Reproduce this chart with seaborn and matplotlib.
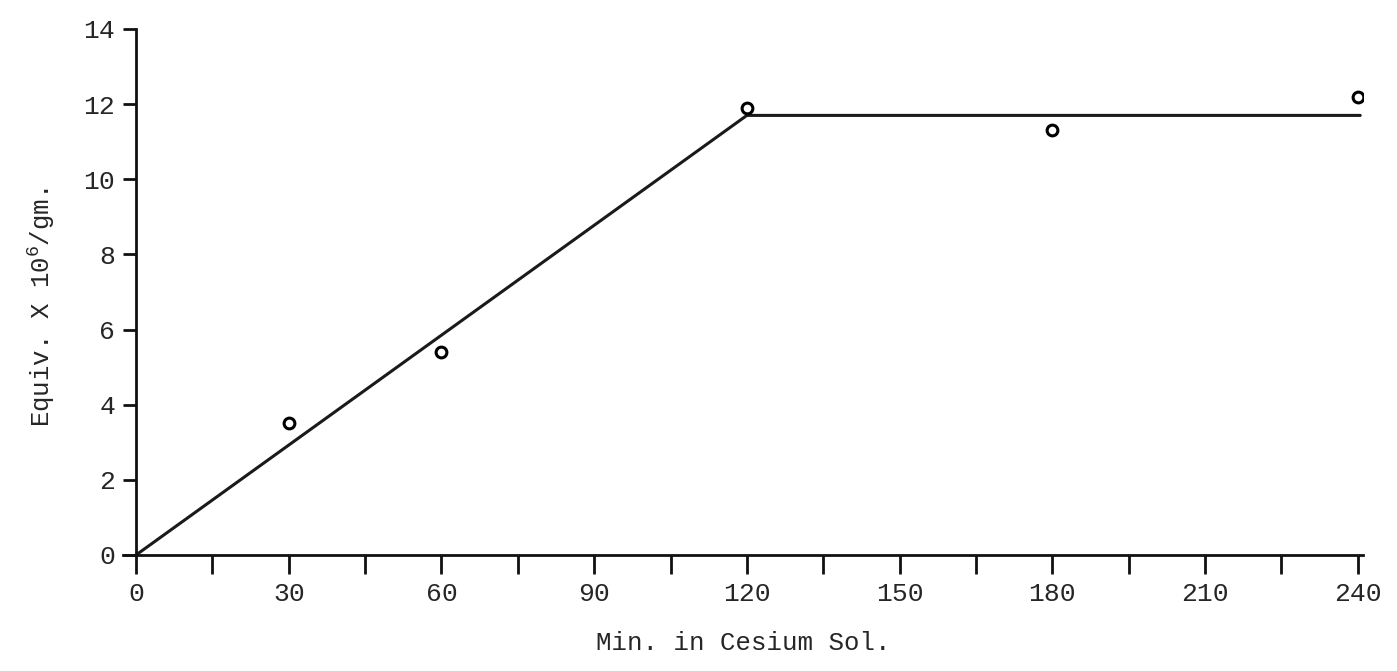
import matplotlib
matplotlib.use("Agg")
import matplotlib.pyplot as plt
import seaborn as sns
import pandas as pd

# Measured uptake
minutes = [30, 60, 120, 180, 240]
equiv = [3.5, 5.4, 11.9, 11.3, 12.2]

# Fitted trend: linear rise, then plateau
fit_minutes = [0, 120, 240.5]
fit_equiv = [0, 11.7, 11.7]

x_major = [0, 30, 60, 90, 120, 150, 180, 210, 240]
x_minor = [15, 45, 75, 105, 135, 165, 195, 225]
y_major = [0, 2, 4, 6, 8, 10, 12, 14]

sns.set_style("ticks")
plt.rcParams["font.family"] = ["Liberation Mono", "DejaVu Sans Mono"]
plt.rcParams["mathtext.default"] = "regular"

fig = plt.figure(figsize=(13.97, 6.71), dpi=100)
ax = fig.add_axes([0.0879, 0.1729, 0.8876, 0.7839])

fit_df = pd.DataFrame({"t": fit_minutes, "v": fit_equiv})
pts_df = pd.DataFrame({"t": minutes, "v": equiv})

sns.lineplot(data=fit_df, x="t", y="v", ax=ax, color="#1a1a1a", linewidth=2.2,
             estimator=None, sort=False)
sns.scatterplot(data=pts_df, x="t", y="v", ax=ax, marker="o", s=60,
                facecolor="white", edgecolor="black", linewidth=2.2, zorder=5)

ax.set_xlim(-2.6, 241)
ax.set_ylim(0, 14)
ax.spines["left"].set_position(("data", 0))
ax.spines["top"].set_visible(False)
ax.spines["right"].set_visible(False)
for s in ("left", "bottom"):
    ax.spines[s].set_linewidth(2.0)
    ax.spines[s].set_color("#111111")

ax.set_xticks(x_major)
ax.set_xticks(x_minor, minor=True)
ax.set_yticks(y_major)
ax.set_xticklabels([str(v) for v in x_major])
ax.set_yticklabels([str(v) for v in y_major])

ax.tick_params(axis="x", which="both", direction="out", length=14, width=2.0,
               pad=5.5, labelsize=19, color="#111111")
ax.tick_params(axis="y", which="both", direction="out", length=9.5, width=2.0,
               pad=5.5, labelsize=19, color="#111111")

ax.set_xlabel("Min. in Cesium Sol.", fontsize=18.5, labelpad=18)
ax.set_ylabel("Equiv. X 10$^{6}$/gm.", fontsize=18.5)
ax.yaxis.set_label_coords(-0.053, 0.47)

fig.savefig("out.png", dpi=100, facecolor="white")
